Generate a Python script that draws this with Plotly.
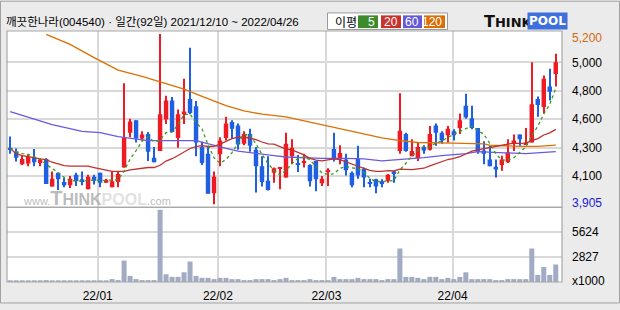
import plotly.graph_objects as go
import pandas as pd

# ---------------- data ----------------
opens = [4335, 4305, 4210, 4215, 4260, 4220, 4250, 4040, 4145, 4075,
         4050, 4130, 4095, 4020, 4115, 4145, 4070, 4035, 4075, 4185,
         4450, 4545, 4405, 4440, 4260, 4310, 4550, 4695, 4410, 4590,
         4705, 4650, 4340, 4290, 3990, 4285, 4410, 4530, 4505, 4365,
         4440, 4320, 4195, 4085, 4145, 4175, 4110, 4270, 4220, 4225,
         4205, 4235, 4065, 4155, 4325, 4245, 4245, 4145, 4250, 4175,
         4070, 4095, 4080, 4085, 4155, 4310, 4440, 4270, 4255, 4340,
         4320, 4505, 4450, 4430, 4460, 4485, 4655, 4560, 4485, 4315,
         4245, 4190, 4205, 4225, 4375, 4435, 4360, 4375, 4705, 4645,
         4800, 4895]
highs = [4420, 4330, 4275, 4280, 4325, 4255, 4255, 4155, 4145, 4105,
         4120, 4145, 4155, 4130, 4130, 4145, 4100, 4155, 4155, 4825,
         4555, 4545, 4460, 4455, 4340, 5200, 4730, 4720, 4625, 4860,
         5095, 4690, 4380, 4340, 4155, 4415, 4570, 4545, 4520, 4460,
         4480, 4340, 4270, 4270, 4185, 4185, 4450, 4400, 4280, 4290,
         4210, 4235, 4120, 4180, 4450, 4355, 4290, 4155, 4350, 4185,
         4100, 4100, 4095, 4135, 4160, 4750, 4450, 4400, 4375, 4355,
         4500, 4520, 4460, 4500, 4475, 4595, 4745, 4655, 4485, 4385,
         4350, 4245, 4275, 4400, 4435, 4435, 4485, 4985, 4725, 4885,
         4935, 5050]
lows = [4290, 4230, 4205, 4195, 4195, 4195, 4060, 4040, 4015, 4035,
        4030, 4045, 4050, 4020, 4055, 4035, 4070, 4035, 4035, 4185,
        4415, 4375, 4390, 4235, 4225, 4310, 4515, 4455, 4335, 4515,
        4590, 4270, 4205, 3985, 3905, 4195, 4390, 4405, 4320, 4355,
        4305, 3995, 4040, 4010, 4070, 4020, 4110, 4210, 4150, 4185,
        4040, 4005, 4045, 4045, 4230, 4210, 4125, 4035, 4100, 4035,
        4035, 3990, 4035, 4070, 4070, 4290, 4305, 4270, 4235, 4290,
        4315, 4350, 4365, 4375, 4390, 4440, 4555, 4475, 4290, 4210,
        4195, 4110, 4160, 4220, 4310, 4350, 4360, 4375, 4570, 4595,
        4695, 4800]
closes = [4325, 4260, 4250, 4265, 4225, 4245, 4060, 4100, 4095, 4050,
          4100, 4080, 4080, 4115, 4085, 4070, 4090, 4080, 4135, 4410,
          4535, 4405, 4435, 4305, 4225, 4590, 4695, 4455, 4590, 4610,
          4600, 4375, 4220, 3985, 4115, 4390, 4520, 4480, 4360, 4440,
          4350, 4195, 4075, 4015, 4180, 4180, 4365, 4335, 4210, 4230,
          4080, 4095, 4100, 4160, 4245, 4295, 4165, 4050, 4125, 4110,
          4060, 4040, 4060, 4130, 4135, 4465, 4310, 4310, 4340, 4315,
          4440, 4450, 4390, 4480, 4430, 4545, 4565, 4485, 4305, 4290,
          4195, 4170, 4245, 4300, 4390, 4400, 4375, 4665, 4660, 4860,
          4760, 4985]
volumes = [180, 180, 180, 180, 180, 180, 215, 180, 180, 180,
           180, 180, 180, 180, 180, 180, 180, 325, 215, 2420,
           690, 325, 215, 215, 215, 8165, 875, 580, 580, 1095,
           2310, 690, 470, 470, 325, 470, 470, 325, 325, 215,
           215, 325, 325, 325, 215, 325, 470, 215, 215, 215,
           325, 215, 215, 215, 580, 325, 325, 325, 470, 325,
           325, 325, 215, 325, 325, 3785, 580, 580, 470, 325,
           580, 580, 325, 470, 325, 580, 1095, 325, 325, 325,
           325, 215, 215, 325, 325, 325, 325, 3785, 800, 1685,
           800, 1980]  # x1000 shares

# moving-average values visible before enough closes are in the window
ma5_head = [4325, 4305, 4290, 4285]
ma20_head = [4330, 4290, 4275, 4270, 4260, 4250, 4245, 4225, 4210, 4200,
             4195, 4195, 4195, 4195, 4185, 4175, 4160, 4155, 4155]
# 60- and 120-day averages at these candle indices
ma60_idx = [0, 4, 7, 12, 15, 18, 21, 23, 31, 33, 36, 38, 41, 44, 46, 52, 56,
            59, 62, 65, 69, 72, 76, 78, 81, 86, 91]
ma60_val = [4610, 4555, 4510, 4460, 4450, 4420, 4405, 4390, 4390, 4365, 4330,
            4310, 4290, 4275, 4265, 4255, 4255, 4250, 4235, 4245, 4260, 4275,
            4290, 4305, 4300, 4290, 4305]
ma120_idx = [6, 10, 14, 18, 22, 26, 29, 32, 36, 39, 42, 46, 49, 52, 56, 59,
             62, 65, 68, 74, 79, 80, 85, 88, 91]
ma120_val = [5197, 5120, 5020, 4925, 4878, 4820, 4780, 4725, 4655, 4615, 4590,
             4570, 4540, 4510, 4470, 4435, 4410, 4390, 4375, 4370, 4365, 4355,
             4345, 4345, 4355]

month_labels = ["22/01", "22/02", "22/03", "22/04"]
month_pos = [14.6, 34.65, 52.75, 73.8]
price_tick_text = ["5,000", "4,800", "4,600", "4,300", "4,100"]
price_high, price_low = 5200, 3905
vol_tick_text = ["2827", "5624"]
vol_tick_vals = [2827, 5624]

title_text = "깨끗한나라(004540) · 일간(92일) 2021/12/10 ~ 2022/04/26"

# ---------------- derived series ----------------
n = len(closes)
idx = list(range(n))
cs = pd.Series(closes)
ma5 = ma5_head + cs.rolling(5).mean().tolist()[len(ma5_head):]
ma20 = ma20_head + cs.rolling(20).mean().tolist()[len(ma20_head):]

RED = "#ee1b24"
BLUE = "#1f5fe2"
up = [c >= o for o, c in zip(opens, closes)]
cols = [RED if u else BLUE for u in up]
body_base = [min(o, c) for o, c in zip(opens, closes)]
body_h = [max(abs(c - o), 7) for o, c in zip(opens, closes)]
wick_h = [h - l for h, l in zip(highs, lows)]

# ---------------- geometry ----------------
W, H = 620, 310
L, R, T, B = 7, 58, 31, 22
PW, PH = W - L - R, H - T - B
def fx(X):
    return (X - L) / PW
def fy(Y):
    return (H - B - Y) / PH
split = fy(211.5)

fig = go.Figure()

# wicks
fig.add_trace(go.Bar(x=idx, y=wick_h, base=lows, width=0.17,
                     marker=dict(color=cols, line=dict(width=0)),
                     xaxis="x", yaxis="y", hoverinfo="skip"))
# bodies
fig.add_trace(go.Bar(x=idx, y=body_h, base=body_base, width=0.74,
                     marker=dict(color=cols, line=dict(width=0)),
                     xaxis="x", yaxis="y", hoverinfo="skip"))
# moving averages
fig.add_trace(go.Scatter(x=ma120_idx, y=ma120_val, mode="lines",
                         line=dict(color="#dc7000", width=1.3), xaxis="x", yaxis="y"))
fig.add_trace(go.Scatter(x=ma60_idx, y=ma60_val, mode="lines",
                         line=dict(color="#6a5ae0", width=1.3), xaxis="x", yaxis="y"))
fig.add_trace(go.Scatter(x=idx, y=ma20, mode="lines",
                         line=dict(color="#c0302c", width=1.3), xaxis="x", yaxis="y"))
fig.add_trace(go.Scatter(x=idx, y=ma5, mode="lines",
                         line=dict(color="#3c9a22", width=1.3, dash="dot"),
                         xaxis="x", yaxis="y"))
# volume
fig.add_trace(go.Bar(x=idx, y=volumes, width=0.84,
                     marker=dict(color="#a2abc4", line=dict(width=0)),
                     xaxis="x2", yaxis="y2", hoverinfo="skip"))

# price axis scale: 5200 at the top mark, 3905 at the bottom mark
px_per_won = (208.5 - 34.0) / (price_high - price_low)
y_top = price_high + (34.0 - 31.0) / px_per_won
y_bot = price_low - (211.5 - 208.5) / px_per_won
step = (price_high - price_low) / 6
price_grid = [price_high - k * step for k in range(1, 6)]

tickfont = dict(family="Liberation Sans, Arial, sans-serif", size=12, color="#000")
gridc = "#d9d9d9"

fig.update_layout(
    width=W, height=H,
    margin=dict(l=L, r=R, t=T, b=B, pad=0),
    paper_bgcolor="#ebebeb", plot_bgcolor="#ffffff",
    showlegend=False, barmode="overlay",
    xaxis=dict(domain=[0, 1], anchor="y", range=[-0.53, 92.04],
               tickvals=month_pos, showticklabels=False, showgrid=True,
               gridcolor=gridc, gridwidth=1.6, zeroline=False, showline=False),
    yaxis=dict(domain=[split, 1], anchor="x", range=[y_bot, y_top],
               tickvals=price_grid, ticktext=price_tick_text, side="right",
               showgrid=True, gridcolor=gridc, gridwidth=1.5, zeroline=False,
               showline=False, ticks="", ticklabelstandoff=9, tickfont=tickfont),
    xaxis2=dict(domain=[0, 1], anchor="y2", matches="x", range=[-0.53, 92.04],
                tickvals=month_pos, ticktext=month_labels, showgrid=True,
                gridcolor=gridc, gridwidth=1.6, zeroline=False, showline=False,
                ticks="", ticklabelstandoff=5, tickfont=tickfont),
    yaxis2=dict(domain=[0, split], anchor="x2", range=[0, 8440],
                tickvals=vol_tick_vals, ticktext=vol_tick_text, side="right",
                showgrid=True, gridcolor=gridc, gridwidth=1.5, zeroline=False,
                showline=False, ticks="", ticklabelstandoff=9, tickfont=tickfont),
)

shapes = []
# outer frame
shapes.append(dict(type="rect", xref="paper", yref="paper",
                   x0=fx(0.5), x1=fx(619.5), y0=fy(309.5), y1=fy(0.5),
                   line=dict(color="#a0a0a0", width=1), layer="below"))
# panel frames
shapes.append(dict(type="rect", xref="paper", yref="paper", x0=0, x1=1,
                   y0=split, y1=1, line=dict(color="#a8a8a8", width=1.2), layer="above"))
shapes.append(dict(type="rect", xref="paper", yref="paper", x0=0, x1=1,
                   y0=0, y1=split, line=dict(color="#a8a8a8", width=1.2), layer="above"))
# MA legend box
shapes.append(dict(type="rect", xref="paper", yref="paper",
                   x0=fx(327.5), x1=fx(447.5), y0=fy(29.5), y1=fy(12.5),
                   fillcolor="#ffffff", line=dict(color="#9a9a9a", width=1)))
leg_cols = ["#3d8b2a", "#c8322d", "#655ad8", "#dc6e0a"]
leg_txt = ["5", "20", "60", "120"]
leg_x = [(358, 378), (381, 401), (403, 422), (424, 445)]
for (a, b_), c in zip(leg_x, leg_cols):
    shapes.append(dict(type="rect", xref="paper", yref="paper",
                       x0=fx(a), x1=fx(b_), y0=fy(28), y1=fy(15),
                       fillcolor=c, line=dict(width=0)))
fig.update_layout(shapes=shapes)

ann = []
def A(X, Y, text, size=12, color="#000", xanchor="left", family=None, **kw):
    d = dict(xref="paper", yref="paper", x=fx(X), y=fy(Y), text=text,
             showarrow=False, xanchor=xanchor, yanchor="middle",
             font=dict(size=size, color=color,
                       family=family or "Liberation Sans, Noto Sans CJK KR, sans-serif"))
    d.update(kw)
    ann.append(d)

A(4, 21.5, title_text, size=11.5)
A(333, 21, "이평", size=12, family="Noto Sans CJK KR, sans-serif")
for (a, b_), t in zip(leg_x, leg_txt):
    A(b_ - 1.5, 21.5, t, size=12, color="#ffffff", xanchor="right")
# ThinkPool logo
A(482, 21, "<b>T<span style='font-size:13px'>HINK</span></b>", size=16,
  family="DejaVu Sans, sans-serif", color="#111")
A(547.5, 21, "<b>POOL</b>", size=12, color="#ffffff", xanchor="center",
  family="DejaVu Sans, sans-serif", bgcolor="#3d70dc", borderpad=1)
# special price marks
A(570, 38.3, "5,200", size=12, color="#d06a10")
A(570, 206.7, "3,905", size=12, color="#1a1ad8")
A(570, 286.5, "x1000", size=12)
# watermark
A(21, 202, "www.<b><span style='font-size:20px'>T</span><span style='font-size:16px'>HINK</span>"
           "<span style='font-size:16px;color:rgba(205,205,205,0.8)'>POOL</span></b>.com",
  size=11, color="rgba(165,165,165,0.75)")
fig.update_layout(annotations=ann)

fig.write_html("out.html")
